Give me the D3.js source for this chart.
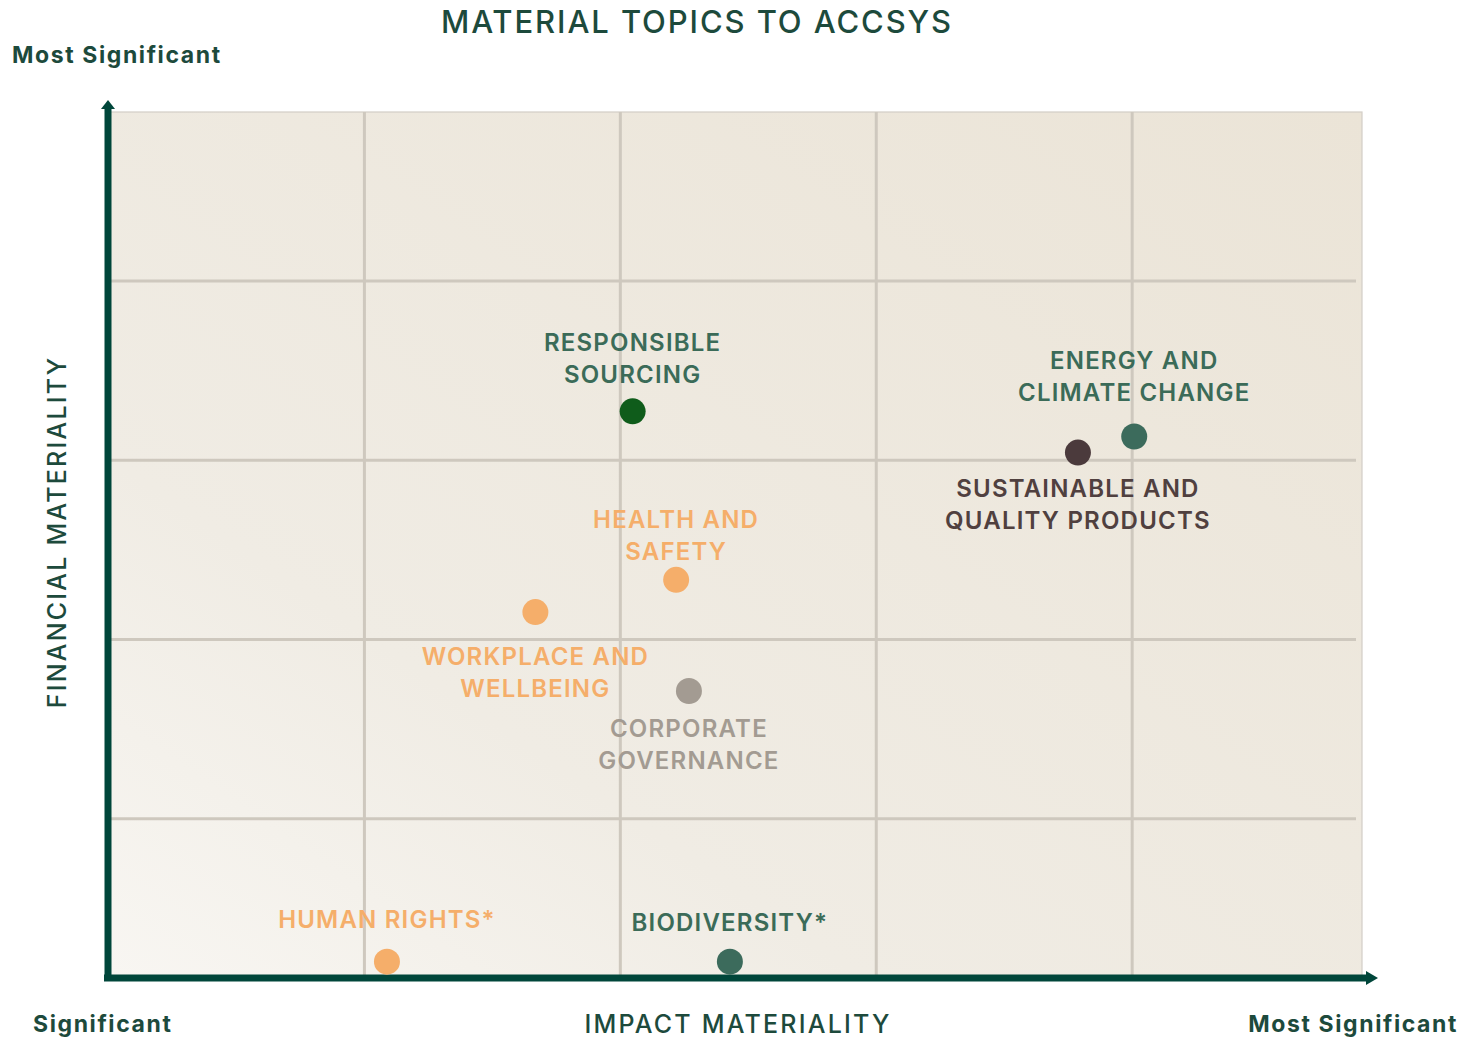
<!DOCTYPE html>
<html>
<head>
<meta charset="utf-8">
<script src="https://cdn.jsdelivr.net/npm/d3@7"></script>
<style>
  body { margin: 0; background: #fff; }
  text { font-family: Inter, "Noto Sans", sans-serif; }
</style>
</head>
<body>
<div id="chart"></div>
<script>
// topics, plotted on impact (x) vs financial (y) materiality
const topics = ["RESPONSIBLE|SOURCING", "ENERGY AND|CLIMATE CHANGE", "SUSTAINABLE AND|QUALITY PRODUCTS",
    "HEALTH AND|SAFETY", "WORKPLACE AND|WELLBEING", "CORPORATE|GOVERNANCE", "HUMAN RIGHTS*", "BIODIVERSITY*"];
const impact = [2.05, 4.01, 3.79, 2.22, 1.67, 2.27, 1.09, 2.43];
const financial = [3.27, 3.13, 3.04, 2.33, 2.15, 1.71, 0.20, 0.20];
const dotColors = ["#0f5c1b", "#3c6b5c", "#4b3a3c", "#f5ae6a", "#f5ae6a", "#a39b92", "#f5ae6a", "#3c6b5c"];
const labelColors = ["#3b6b58", "#3b6b58", "#50403f", "#f5ae6a", "#f5ae6a", "#a39b92", "#f5ae6a", "#3b6b58"];
const xGrid = [1, 2, 3, 4];
const yGrid = [1, 2, 3, 4];

// label placement: positive = below the dot, negative = above (px from dot centre)
const labelGap = [-37, -44, 36, -28, 44, 37, -42, -39];

const W = 1461, H = 1039;
const margin = { top: 112, right: 99, bottom: 63, left: 108 };
const width = W - margin.left - margin.right;
const height = H - margin.top - margin.bottom;
const ink = "#1d4a3c";
const axisColor = "#00463a";

const svg = d3.select("#chart").append("svg")
    .attr("width", W).attr("height", H);

const x = d3.scaleLinear().domain([0, 4.9]).range([0, width]);
const y = d3.scaleLinear().domain([0.12, 4.94]).range([height, 0]);

const defs = svg.append("defs");
const grad = defs.append("linearGradient").attr("id", "bg")
    .attr("x1", "0%").attr("y1", "100%").attr("x2", "100%").attr("y2", "0%");
grad.append("stop").attr("offset", "0%").attr("stop-color", "#f8f6f2");
grad.append("stop").attr("offset", "30%").attr("stop-color", "#f0ece4");
grad.append("stop").attr("offset", "100%").attr("stop-color", "#ebe4d7");

const g = svg.append("g").attr("transform", `translate(${margin.left},${margin.top})`);

g.append("rect")
    .attr("width", width).attr("height", height)
    .attr("fill", "url(#bg)")
    .attr("stroke", "#d3cec6").attr("stroke-width", 1.2);

// grid
g.append("g")
    .attr("transform", `translate(0,${height})`)
    .call(d3.axisBottom(x).tickValues(xGrid).tickSize(-height).tickFormat(""))
    .call(s => s.select(".domain").remove())
    .call(s => s.selectAll("line").attr("stroke", "#cec8be").attr("stroke-width", 3));

g.append("g")
    .call(d3.axisLeft(y).tickValues(yGrid).tickSize(-width + 6).tickFormat(""))
    .call(s => s.select(".domain").remove())
    .call(s => s.selectAll("line").attr("stroke", "#cec8be").attr("stroke-width", 3));

// axes with arrows
const ax = g.append("g");
ax.append("line")
    .attr("x1", -4).attr("x2", width + 6)
    .attr("y1", height + 2).attr("y2", height + 2)
    .attr("stroke", axisColor).attr("stroke-width", 7);
ax.append("path")
    .attr("d", `M${width + 4},${height - 5} L${width + 16},${height + 2} L${width + 4},${height + 9} Z`)
    .attr("fill", axisColor);
ax.append("line")
    .attr("x1", 0).attr("x2", 0)
    .attr("y1", height + 5).attr("y2", -4)
    .attr("stroke", axisColor).attr("stroke-width", 7);
ax.append("path")
    .attr("d", `M-7,-3 L0,-12 L7,-3 Z`)
    .attr("fill", axisColor);

// points
const pts = g.append("g").selectAll("g.topic")
    .data(topics.map((t, i) => ({
        lines: t.split("|"), x: impact[i], y: financial[i],
        dot: dotColors[i], label: labelColors[i], gap: labelGap[i]
    })))
    .join("g").attr("class", "topic");

pts.append("circle")
    .attr("cx", d => x(d.x)).attr("cy", d => y(d.y))
    .attr("r", 13).attr("fill", d => d.dot);

const lineH = 32;
pts.each(function (d) {
    const sel = d3.select(this);
    const n = d.lines.length;
    d.lines.forEach((ln, j) => {
        const cy = d.gap > 0
            ? y(d.y) + d.gap + j * lineH
            : y(d.y) + d.gap - (n - 1 - j) * lineH;
        sel.append("text")
            .attr("x", x(d.x)).attr("y", cy)
            .attr("dy", "0.36em")
            .attr("text-anchor", "middle")
            .attr("font-size", 24).attr("font-weight", 600)
            .attr("letter-spacing", 1.2)
            .attr("fill", d.label)
            .text(ln);
    });
});

// titles
svg.append("text")
    .attr("x", 697).attr("y", 22).attr("dy", "0.36em")
    .attr("text-anchor", "middle")
    .attr("font-size", 31).attr("font-weight", 500).attr("letter-spacing", 1.9)
    .attr("fill", ink).text("MATERIAL TOPICS TO ACCSYS");

svg.append("text")
    .attr("x", 12).attr("y", 55).attr("dy", "0.36em")
    .attr("font-size", 23).attr("font-weight", 700).attr("letter-spacing", 1.6)
    .attr("fill", ink).text("Most Significant");

svg.append("text")
    .attr("x", 33).attr("y", 1024).attr("dy", "0.36em")
    .attr("font-size", 23).attr("font-weight", 700).attr("letter-spacing", 1.6)
    .attr("fill", ink).text("Significant");

svg.append("text")
    .attr("x", 1458).attr("y", 1024).attr("dy", "0.36em")
    .attr("text-anchor", "end")
    .attr("font-size", 23).attr("font-weight", 700).attr("letter-spacing", 1.6)
    .attr("fill", ink).text("Most Significant");

svg.append("text")
    .attr("x", 738).attr("y", 1024).attr("dy", "0.36em")
    .attr("text-anchor", "middle")
    .attr("font-size", 25).attr("font-weight", 500).attr("letter-spacing", 2.2)
    .attr("fill", ink).text("IMPACT MATERIALITY");

svg.append("text")
    .attr("transform", "translate(57,532) rotate(-90)")
    .attr("dy", "0.36em")
    .attr("text-anchor", "middle")
    .attr("font-size", 25).attr("font-weight", 500).attr("letter-spacing", 2.2)
    .attr("fill", ink).text("FINANCIAL MATERIALITY");
</script>
</body>
</html>
